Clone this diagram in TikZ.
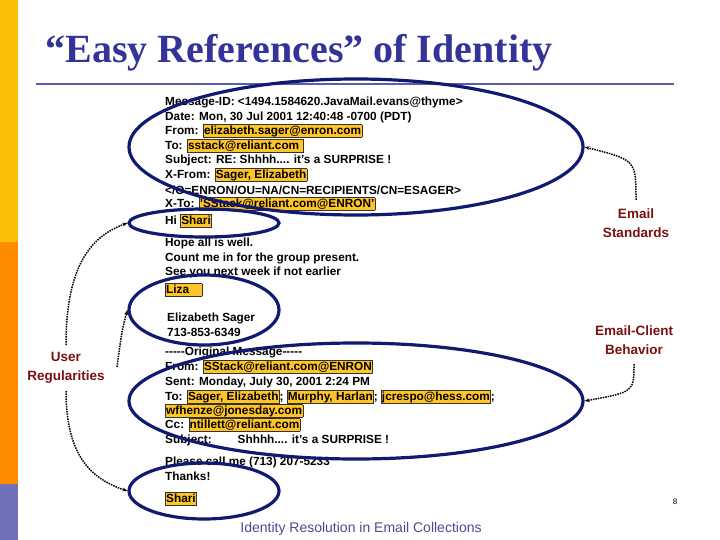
\documentclass[tikz,border=0pt]{standalone}
\usepackage{fontspec}
\setmainfont{Liberation Sans}
\newfontfamily\titlefont{Liberation Serif}
\usetikzlibrary{shapes.geometric,arrows.meta}
\definecolor{hlc}{HTML}{FFC526}
\definecolor{navy}{HTML}{101A70}
\definecolor{titc}{HTML}{333399}
\definecolor{lab}{HTML}{7A1010}
\newcommand{\hlx}[1]{{\setlength{\fboxsep}{0.5pt}\setlength{\fboxrule}{0.5pt}\fcolorbox{black!80}{hlc}{\vphantom{Ag}#1}}}
\begin{document}
\begin{tikzpicture}[x=1pt,y=-1pt,
  ln/.style={anchor=west,inner sep=0pt,font=\fontsize{11.8}{12}\selectfont\bfseries},
  ell/.style={draw=navy,line width=3.2pt,ellipse,inner sep=0pt},
  lbl/.style={text=lab,font=\fontsize{13.5}{19}\selectfont\bfseries,align=center},
  dot/.style={densely dotted,line width=1.5pt,-{Stealth[length=5pt]}}]
\useasboundingbox (0,0) rectangle (720,540);
\fill[yellow!20!orange!60!yellow] (0,0) rectangle (18,242);
\fill[orange!90!yellow] (0,242) rectangle (18,484);
\fill[titc!70!white] (0,484) rectangle (18,540);
\node[anchor=west,text=titc,font=\titlefont\fontsize{40}{42}\selectfont\bfseries] (title) at (42,53) {“Easy References” of Identity};
\draw[titc!80!white,line width=1.3pt] (36,84) -- (674,84);
\node[ln] (l1) at (165,102) {Message-ID: <1494.1584620.JavaMail.evans@thyme>};
\node[ln] (l2) at (165,117) {Date: Mon, 30 Jul 2001 12:40:48 -0700 (PDT)};
\node[ln] (l3) at (165,131) {From: \hlx{elizabeth.sager@enron.com}};
\node[ln] (l4) at (165,146) {To: \hlx{sstack@reliant.com\ }};
\node[ln] (l5) at (165,160) {Subject: RE: Shhhh.... it's a SURPRISE !};
\node[ln] (l6) at (165,175) {X-From: \hlx{Sager, Elizabeth}};
\node[ln] (l7) at (165,190) {</O=ENRON/OU=NA/CN=RECIPIENTS/CN=ESAGER>};
\node[ln] (l8) at (165,204) {X-To: \hlx{'SStack@reliant.com@ENRON'}};
\node[ln] (l9) at (165,221) {Hi \hlx{Shari}};
\node[ln] (l10) at (165,243) {Hope all is well.};
\node[ln] (l11) at (165,258) {Count me in for the group present.};
\node[ln] (l12) at (165,272) {See you next week if not earlier};
\node[ln] (l13) at (165,290) {\hlx{Liza\hspace{12pt}}};
\node[ln] (l14) at (167,318) {Elizabeth Sager};
\node[ln] (l15) at (167,332) {713-853-6349};
\node[ln] (l16) at (165,352) {{-}{-}{-}{-}{-}Original Message{-}{-}{-}{-}{-}};
\node[ln] (l17) at (165,367) {From: \hlx{SStack@reliant.com@ENRON}};
\node[ln] (l18) at (165,382) {Sent: Monday, July 30, 2001 2:24 PM};
\node[ln] (l19) at (165,397) {To: \hlx{Sager, Elizabeth}; \hlx{Murphy, Harlan}; \hlx{jcrespo@hess.com};};
\node[ln] (l20) at (165,411) {\hlx{wfhenze@jonesday.com}};
\node[ln] (l21) at (165,425) {Cc: \hlx{ntillett@reliant.com}};
\node[ln] (l22) at (165,440) {Subject:\hspace{2.2em}Shhhh.... it's a SURPRISE !};
\node[ln] (l23) at (165,462) {Please call me (713) 207-5233};
\node[ln] (l24) at (165,476) {Thanks!};
\node[ln] (l25) at (165,499) {\hlx{Shari}};
\node[ell,minimum width=454pt,minimum height=136pt] (e1) at (356,147) {};
\node[ell,minimum width=150pt,minimum height=28pt] (e2) at (204,223) {};
\node[ell,minimum width=150pt,minimum height=70pt] (e3) at (204,310) {};
\node[ell,minimum width=454pt,minimum height=116pt] (e4) at (356,401) {};
\node[ell,minimum width=150pt,minimum height=56pt] (e5) at (204,491) {};
\node[lbl] (es) at (636,223) {Email\\Standards};
\node[lbl] (ec) at (634,340) {Email-Client\\Behavior};
\node[lbl] (ur) at (66,368) {User\\Regularities};
\coordinate (esT) at (636,200);
\coordinate (ecB) at (634,364);
\coordinate (urT) at (66,345);
\coordinate (urR) at (117,367);
\coordinate (urB) at (66,391);
\draw[dot] (esT) .. controls (636,160) .. (e1.east);
\draw[dot] (ecB) .. controls (634,392) .. (e4.east);
\draw[dot] (urT) .. controls (66,260) and (95,235) .. (e2.west);
\draw[dot] (urR) .. controls (122,330) .. (e3.west);
\draw[dot] (urB) .. controls (66,460) and (95,480) .. (e5.west);
\node[font=\fontsize{8}{9}\selectfont] (pg) at (675,502) {8};
\node[text=titc!70!gray,font=\fontsize{14}{15}\selectfont] (ft) at (361,529) {Identity Resolution in Email Collections};
\end{tikzpicture}
\end{document}
